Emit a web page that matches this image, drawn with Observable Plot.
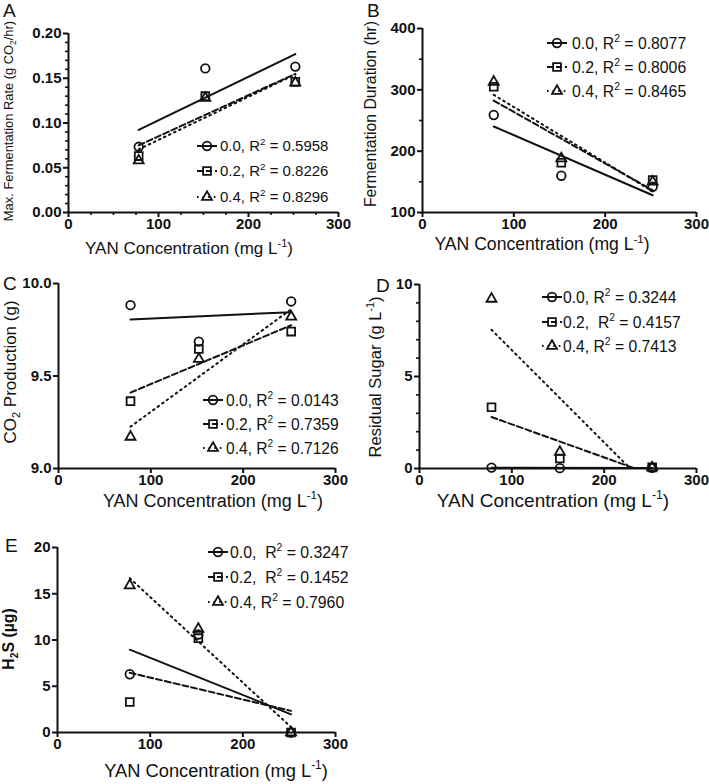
<!DOCTYPE html>
<html>
<head>
<meta charset="utf-8">
<script src="https://cdn.jsdelivr.net/npm/d3@7"></script>
<script src="https://cdn.jsdelivr.net/npm/@observablehq/plot@0.6"></script>
<style>
  html, body { margin: 0; padding: 0; background: #fff; }
  #wrap { position: relative; width: 709px; height: 784px; overflow: hidden; font-family: "Liberation Sans", Arial, sans-serif; color: #111; }
  #wrap svg { position: absolute; }
</style>
</head>
<body>
<div id="wrap"></div>
<script>
// ---------- data ----------
const yan = [78, 152, 252];                 // YAN concentration (mg/L)
const levels = ["0.0", "0.2", "0.4"];        // treatment series
const maxRate  = [[0.0734, 0.161, 0.163], [0.063, 0.130, 0.146], [0.058, 0.128, 0.145]];
const duration = [[259, 160, 142], [305, 181, 153], [313, 188, 150]];
const co2      = [[9.883, 9.686, 9.903], [9.364, 9.646, 9.740], [9.171, 9.592, 9.820]];
const sugar    = [[0.05, 0.02, 0.04], [3.33, 0.54, 0.06], [9.22, 0.90, 0.05]];
const h2s      = [[6.3, 10.6, 0], [3.3, 10.2, 0], [15.9, 11.2, 0]];

const r2A = ["0.5958", "0.8226", "0.8296"];
const r2B = ["0.8077", "0.8006", "0.8465"];
const r2C = ["0.0143", "0.7359", "0.7126"];
const r2D = ["0.3244", "0.4157", "0.7413"];
const r2E = ["0.3247", "0.1452", "0.7960"];
const sepA = [", ", ", ", ", "], sepB = sepA, sepC = sepA;
const sepD = [", ", ",  ", ", "];
const sepE = [",  ", ",  ", ", "];

const xTicks  = [0, 100, 200, 300];
const xMinorA = [25, 50, 75, 125, 150, 175, 225, 250, 275];
const yTicksA = [0, 0.05, 0.10, 0.15, 0.20];
const yMinorA = [0.01,0.02,0.03,0.04,0.06,0.07,0.08,0.09,0.11,0.12,0.13,0.14,0.16,0.17,0.18,0.19];
const yTicksB = [100, 200, 300, 400];
const yMinorB = [150, 250, 350];
const yTicksC = [9.0, 9.5, 10.0];
const yTicksD = [0, 5, 10];
const yMinorD = [1, 2, 3, 4, 6, 7, 8, 9];
const yTicksE = [0, 5, 10, 15, 20];

// ---------- styles ----------
const INK = "#111";
const FONT = "Liberation Sans, Arial, sans-serif";
const dashes = [null, "6,3", "1.6,4"];
const symbols = ["circle", "square", "triangle"];
const d3Symbols = [d3.symbolCircle, d3.symbolSquare, d3.symbolTriangle];
const radii = [4.3, 4.4, 3.7];

const panels = [
  { letter: "A", values: maxRate, r2: r2A, sep: sepA, yDomain: [0, 0.2], yTicks: yTicksA, yMinor: yMinorA, xMinor: xMinorA, fmt: ".2f",
    box: [0, 0, 354, 262], frame: [68, 338, 33, 212],
    letterPos: [3, 17],
    xTitle: { x: 189, y: 254, fs: 17 },
    yTitle: { x: 13, y: 121, fs: 12.9, parts: [["Max. Fermentation Rate (g CO"], ["2", "sub"], ["/hr)"]] },
    legend: { cx: 207, tx: 220, ys: [146, 171, 197], fs: 15 } },
  { letter: "B", values: duration, r2: r2B, sep: sepB, yDomain: [100, 400], yTicks: yTicksB, yMinor: yMinorB, fmt: "d",
    box: [354, 0, 355, 262], frame: [422, 696, 28, 212],
    letterPos: [367, 17],
    xTitle: { x: 542, y: 250, fs: 17.6 },
    yTitle: { x: 376, y: 114, fs: 15.8, parts: [["Fermentation Duration (hr)"]] },
    legend: { cx: 557, tx: 572, ys: [43, 67, 91], fs: 15.8 } },
  { letter: "C", values: co2, r2: r2C, sep: sepC, yDomain: [9, 10], yTicks: yTicksC, fmt: ".1f",
    box: [0, 262, 354, 260], frame: [58, 335, 283, 468],
    letterPos: [3, 290],
    xTitle: { x: 213, y: 507, fs: 18 },
    yTitle: { x: 15.5, y: 372, fs: 17, parts: [["CO"], ["2", "sub"], [" Production (g)"]] },
    legend: { cx: 213, tx: 226, ys: [400, 424, 448], fs: 15.6 } },
  { letter: "D", values: sugar, r2: r2D, sep: sepD, yDomain: [0, 10], yTicks: yTicksD, yMinor: yMinorD, fmt: "d",
    box: [354, 262, 355, 260], frame: [419, 696, 284, 468],
    letterPos: [376, 292],
    xTitle: { x: 553, y: 507, fs: 19 },
    yTitle: { x: 381, y: 377, fs: 16.5, parts: [["Residual Sugar (g L"], ["-1", "sup"], [")"]] },
    legend: { cx: 552, tx: 563, ys: [297, 322, 346], fs: 15.7 } },
  { letter: "E", values: h2s, r2: r2E, sep: sepE, yDomain: [0, 20], yTicks: yTicksE, fmt: "d",
    box: [0, 522, 354, 262], frame: [57, 335, 547, 732],
    letterPos: [5, 552],
    xTitle: { x: 216, y: 777, fs: 18.3 },
    yTitle: { x: 14, y: 639, fs: 15.8, bold: true, parts: [["H"], ["2", "sub"], ["S (µg)"]] },
    legend: { cx: 218, tx: 230, ys: [552, 577, 602], fs: 15.8 } }
];

const wrap = document.getElementById("wrap");

function makePanel(p) {
  const [bx, by, bw, bh] = p.box;
  const [fl, fr, ft, fb] = p.frame;
  const marks = [];
  p.values.forEach((vals, s) => {
    const rows = yan.map((x, i) => ({ x, y: vals[i] }));
    marks.push(Plot.linearRegressionY(rows, {
      x: "x", y: "y", ci: 0, stroke: INK, strokeWidth: 2,
      strokeDasharray: dashes[s] || undefined, clip: true
    }));
  });
  p.values.forEach((vals, s) => {
    const rows = yan.map((x, i) => ({ x, y: vals[i] }));
    marks.push(Plot.dot(rows, { x: "x", y: "y", symbol: symbols[s], r: radii[s], fill: "none", stroke: INK, strokeWidth: 1.8 }));
  });
  marks.push(Plot.ruleX([0], { stroke: INK, strokeWidth: 2 }));
  marks.push(Plot.ruleY([p.yDomain[0]], { stroke: INK, strokeWidth: 2 }));
  marks.push(Plot.axisX({ ticks: xTicks, tickSize: 5, tickPadding: 1, tickFormat: d3.format("d"),
    fontSize: 15, fontWeight: "bold", strokeWidth: 2, label: null }));
  if (p.xMinor) marks.push(Plot.axisX({ ticks: p.xMinor, tickSize: 3, tickFormat: () => "", strokeWidth: 1.6, label: null }));
  marks.push(Plot.axisY({ ticks: p.yTicks, tickSize: 5, tickPadding: 2, tickFormat: d3.format(p.fmt),
    fontSize: 15, fontWeight: "bold", strokeWidth: 2, label: null }));
  if (p.yMinor) marks.push(Plot.axisY({ ticks: p.yMinor, tickSize: 3, tickFormat: () => "", strokeWidth: 1.6, label: null }));

  const svg = Plot.plot({
    width: bw, height: bh,
    marginLeft: fl - bx, marginRight: bx + bw - fr,
    marginTop: ft - by, marginBottom: by + bh - fb,
    x: { domain: [0, 300] },
    y: { domain: p.yDomain },
    style: { fontFamily: FONT, color: INK, background: "transparent", overflow: "visible" },
    marks
  });
  svg.style.left = bx + "px";
  svg.style.top = by + "px";
  wrap.appendChild(svg);
}

panels.forEach(makePanel);

// ---------- overlay: panel letters, axis titles, legends ----------
const ov = d3.select(wrap).append("svg")
  .attr("width", 709).attr("height", 784)
  .style("left", "0px").style("top", "0px")
  .style("pointer-events", "none")
  .attr("font-family", FONT).attr("fill", INK);

function rich(g, parts, fs) {
  const t = g.append("text").attr("font-size", fs);
  let shift = 0;
  parts.forEach(([txt, kind]) => {
    let target = 0;
    if (kind === "sup") target = -0.42 * fs;
    if (kind === "sub") target = 0.25 * fs;
    const ts = t.append("tspan").text(txt).attr("dy", target - shift);
    if (kind) ts.attr("font-size", fs * 0.65);
    shift = target;
  });
  return t;
}

panels.forEach(p => {
  ov.append("text").attr("x", p.letterPos[0]).attr("y", p.letterPos[1])
    .attr("font-size", 19).text(p.letter);

  const xt = ov.append("g").attr("transform", `translate(${p.xTitle.x},${p.xTitle.y})`);
  rich(xt, [["YAN Concentration (mg L"], ["-1", "sup"], [")"]], p.xTitle.fs)
    .attr("text-anchor", "middle").style("white-space", "pre");

  const yt = ov.append("g").attr("transform", `translate(${p.yTitle.x},${p.yTitle.y}) rotate(-90)`);
  const ytt = rich(yt, p.yTitle.parts, p.yTitle.fs).attr("text-anchor", "middle");
  if (p.yTitle.bold) ytt.attr("font-weight", "bold");

  const L = p.legend;
  levels.forEach((lv, s) => {
    const y = L.ys[s];
    ov.append("line").attr("x1", L.cx - 10).attr("x2", L.cx + 10).attr("y1", y).attr("y2", y)
      .attr("stroke", INK).attr("stroke-width", 2).attr("stroke-dasharray", dashes[s]);
    ov.append("path").attr("d", d3.symbol(d3Symbols[s], Math.PI * radii[s] * radii[s])())
      .attr("transform", `translate(${L.cx},${y})`)
      .attr("fill", "none").attr("stroke", INK).attr("stroke-width", 1.8);
    rich(ov.append("g").attr("transform", `translate(${L.tx},${y + 0.36 * L.fs})`),
      [[lv + p.sep[s] + "R"], ["2", "sup"], [" = " + p.r2[s]]], L.fs)
      .style("white-space", "pre");
  });
});
</script>
</body>
</html>
